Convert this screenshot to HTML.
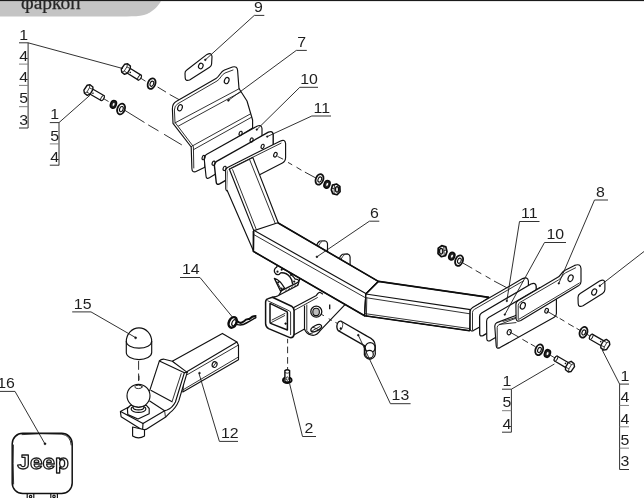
<!DOCTYPE html>
<html>
<head>
<meta charset="utf-8">
<style>
html,body{margin:0;padding:0;background:#fff;}
body{width:644px;height:498px;overflow:hidden;position:relative;font-family:"Liberation Sans",sans-serif;}
svg{position:absolute;left:0;top:0;display:block;}
.l{fill:none;stroke:#111;stroke-width:1.15;stroke-linejoin:round;stroke-linecap:round;}
.w{fill:#fff;stroke:#111;stroke-width:1.15;stroke-linejoin:round;stroke-linecap:round;}
.t{fill:none;stroke:#1c1c1c;stroke-width:0.9;stroke-linejoin:round;stroke-linecap:round;}
.d{fill:none;stroke:#222;stroke-width:0.8;stroke-dasharray:10.5 7;}
.ld{fill:none;stroke:#1a1a1a;stroke-width:0.9;}
.ul{fill:none;stroke:#333;stroke-width:1;}
.n{font-family:"Liberation Sans",sans-serif;font-size:15px;fill:#1e1e1e;stroke:none;}
.dot{fill:#0c0c0c;stroke:#0c0c0c;stroke-width:0.5;}
</style>
</head>
<body>
<svg width="644" height="498" viewBox="0 0 644 498">


<!-- header -->
<path d="M0,0 H161.6 C158,6.5 152.5,12.4 144,15 C139,16.3 134,16.4 127,16.4 H0 Z" fill="#c4c4c4"/>
<rect x="0" y="0" width="644" height="1.1" fill="#1a1a1a"/>
<text id="hdr" style="will-change:transform" x="21" y="8.6" font-family="Liberation Serif,serif" font-size="19.5" fill="#262626" stroke="#262626" stroke-width="0.25">фаркоп</text>

<g id="drawing">

<!-- ===== left bracket 7 ===== -->
<g id="br7">
<path class="w" d="M172.4,109 Q172.2,103.5 176.5,101.2 L216,78.5 C219.5,76.5 220.5,71.5 224.5,70 L232.5,67 Q237.3,65.8 237.6,70.5 L239,88.5 L247,101 L252.6,120 L252.6,128 L204.8,158 L204.8,167.2 L195.5,171.8 Q192,172.5 191.9,168.5 L191.2,147 L173,123.3 Z"/>
<path class="t" d="M193.8,168 L193.4,146.6 L175,122.4 L174.4,110 Q174.4,105.6 178,103.6 L217,81 C220.5,79 221.5,74.5 225,73 L233,70"/>
<path class="t" d="M174.8,123 L239.4,88.6 M178.5,126 L240.8,92"/>
<path class="t" d="M191.2,146.6 L250.6,113.8 M193.6,149.6 L251.6,117.2"/>
<ellipse class="l" cx="180" cy="107.8" rx="2.2" ry="3.2" transform="rotate(22 180 107.8)"/>
<ellipse class="l" cx="226.7" cy="80.6" rx="2.2" ry="3.2" transform="rotate(22 226.7 80.6)"/>
</g>

<!-- ===== left plate 10 ===== -->
<path class="w" d="M204.2,158.8 Q204.1,156 206.4,154.6 L257,126.2 Q261.6,124 262,128.6 L262,146 L209.4,177.8 Q206.2,179.4 206,176 Z"/>
<!-- ===== left plate 11 ===== -->
<path d="M214.4,165.6 Q214.3,162.8 216.6,161.4 L268.4,132.2 Q272.8,130.2 273.2,134.6 L273.2,153 L219.6,183.8 Q216.4,185.4 216.2,182 Z" fill="#fff" stroke="#111" stroke-width="1.4" stroke-linejoin="round"/>

<!-- ===== socket bracket (behind receiver) ===== -->
<g id="socket" fill="#fff" stroke="#111" stroke-width="1.3" stroke-linejoin="round" stroke-linecap="round">
<path d="M279,262 L276.6,267.3 Q273.6,269 274.6,272.2 Q276,275.2 279,274.4 L280.8,272.8 Q286.4,272.4 290,277 Q292.4,280 292.5,283.7 L296.1,286.3 Q298.8,283 298.7,280.6 Q298,279 295.2,279.2 Q294.6,278 292,275.4 Q288,270 282,268.6 L290,262 Z"/>
<path d="M274.4,278.4 L280.6,291.2 L284.6,288.1 Q282,284 280.2,281.9 Q277,279 274.4,278.4 Z"/>
<path d="M276.8,281.8 L281.4,289.6" stroke-width="0.9"/>
<path d="M281.5,290.7 L301.4,280.6 L304.9,282.8 L277.5,297.8 Z"/>
<path d="M285,291.4 L286.6,290 M288,289.8 L289.6,288.4 M291,288.2 L292.6,286.8 M294,286.6 L295.6,285.2 M297,285 L298.6,283.6" stroke-width="0.8"/>
<g fill="#111" stroke="none">
<circle cx="277.5" cy="271.7" r="1.1"/><circle cx="281.6" cy="269.8" r="1"/><circle cx="291" cy="275" r="1"/><circle cx="294.2" cy="281.6" r="1.1"/><circle cx="278.4" cy="282.3" r="1"/><circle cx="281.6" cy="288.4" r="1"/>
</g>
</g>

<!-- ===== receiver ===== -->
<g id="receiver">
<!-- tube top & side -->
<path class="w" d="M270.5,298 L276.6,296.4 L298,285.2 L300,278 L350,300 L345,304.6 L320.4,330.4 Q316,336.6 311,335 Q306,333.6 304.5,329 L293.8,335 L293.8,310 Z"/>
<path class="t" d="M293.8,310.6 L317.4,297.6"/>
<path class="l" d="M293.8,307.4 L316.4,295.4 Q318.8,291.4 320.8,292.8 L322.6,294"/>
<path class="l" d="M304.5,306 L304.5,329"/>
<path class="t" d="M306.8,305 L306.8,330.6 Q308.8,334.4 312.4,334"/>
<!-- gusset holes -->
<circle cx="316.3" cy="311.7" r="5.5" fill="#fff" stroke="#111" stroke-width="1.3"/>
<ellipse cx="316.1" cy="311.9" rx="3.3" ry="3.7" fill="#bdbdbd" stroke="#111" stroke-width="1.1"/>
<ellipse cx="316.2" cy="328.2" rx="5.8" ry="2.7" fill="#fff" stroke="#111" stroke-width="1.3" transform="rotate(-27 316.2 328.2)"/>
<path class="t" d="M312.6,330.6 L319.8,326.6 M313,327.2 L319.4,330"/>
<path d="M329.7,304.4 V309.3" stroke="#111" stroke-width="1.3" fill="none"/>
<!-- collar -->
<path d="M268.2,298.6 L272.4,297.2 L291.6,306.2 Q294,307.8 294,310.6 L294,334.4 Q293.6,338 290,337.6 L268.6,328.6 Q265.6,327 265.6,323.6 L265.6,302 Q265.6,299.4 268.2,298.6 Z" fill="#fff" stroke="#111" stroke-width="1.5" stroke-linejoin="round"/>
<path d="M270,303.4 L286.8,311.6 Q287.4,312 287.4,313 L287.4,330 L270.6,323.4 Q270,323 270,322 Z" fill="#fff" stroke="#111" stroke-width="1.5" stroke-linejoin="round"/>
<path class="t" d="M267.8,300.8 L289.6,311 Q290.6,311.6 290.6,313 L290.6,334.6"/>
<path class="t" d="M270.4,323 L284.6,315.6 M272,320 L285,313.4"/>
<path class="t" d="M272.4,297.2 L276.6,296.4"/>
<circle class="dot" cx="285.6" cy="323.6" r="0.9"/>
</g>

<!-- ===== pin 13 ===== -->
<g id="pin13">
<path d="M341.2,321.2 L367.4,336.4 Q375.2,339.8 375.2,345.4 L375.2,352 A5.4,5.4 0 0 1 364.4,354.8 L364.4,345.6 L338.2,330.6 Q336,327.6 337.4,323.6 Q338.8,320.4 341.2,321.2 Z" fill="#fff" stroke="#111" stroke-width="1.3" stroke-linejoin="round"/>
<path d="M341.6,321.6 Q343.6,323.6 342.4,327.4 Q341.2,330.8 338.6,330.8" fill="none" stroke="#222" stroke-width="0.8"/>
<circle cx="370.2" cy="347.6" r="5" fill="none" stroke="#111" stroke-width="1.2"/>
<circle cx="369.5" cy="354.2" r="3.8" fill="#fff" stroke="#111" stroke-width="1.2"/>
<circle class="dot" cx="340.8" cy="328.4" r="0.9"/>
<circle class="dot" cx="358.3" cy="335.2" r="0.9"/>
</g>

<!-- ===== clip 14 ===== -->
<g id="clip14" fill="none" stroke="#0c0c0c" stroke-linecap="round">
<ellipse cx="232.7" cy="322.4" rx="3.7" ry="5.5" transform="rotate(25 232.7 322.4)" stroke-width="2.5"/>
<ellipse cx="234" cy="322.8" rx="1.9" ry="3.3" transform="rotate(25 234 322.8)" stroke-width="1.1"/>
<path d="M237.4,321.2 Q240.2,324.4 243.6,321.6 Q246.4,318.4 249.4,319 Q252,316 255.6,316" stroke-width="2"/>
<path d="M237.6,324.6 Q242,325.8 246.4,323 Q250.6,320.8 255.8,317.6" stroke-width="1.5"/>
</g>

<!-- ===== bolt 2 ===== -->
<g id="bolt2">
<ellipse cx="287.3" cy="380.2" rx="4.3" ry="2.9" fill="#fff" stroke="#0c0c0c" stroke-width="2"/>
<path d="M284.9,370.6 Q287.2,369 289.6,370.6 L289.6,381.4 Q287.2,382.6 284.9,381.4 Z" fill="#fff" stroke="#0c0c0c" stroke-width="1.4"/>
<path d="M284.9,372.6 Q287.2,373.8 289.6,372.6" fill="none" stroke="#111" stroke-width="0.8"/>
<ellipse cx="287.3" cy="378.6" rx="1.1" ry="1.8" fill="#fff" stroke="#111" stroke-width="0.8"/>
</g>

<!-- ears -->
<path class="w" d="M316.3,246.4 Q317.6,242.2 320,241 L324.7,240.7 Q327.2,241.2 327.5,243.8 L327.5,256 L316.3,250 Z"/>
<path class="t" d="M318.2,246.6 Q319.6,242.8 321.9,241.4"/>
<path class="w" d="M338.9,259.6 Q340.2,255.4 342.6,254.2 L347.3,253.9 Q349.8,254.4 350.1,257 L350.1,269 L338.9,263 Z"/>
<path class="t" d="M340.8,259.8 Q342.2,256 344.5,254.6"/>
<!-- ===== frame 6 ===== -->
<g id="frame6">
<!-- left end plate -->
<path class="w" d="M225.6,170.8 Q225.5,168.6 227.6,167.4 L280,141.2 Q285.2,138.6 285.6,143.6 L285.6,157.6 Q285.6,161.4 282.4,163 L229,190.5 Q226,191.6 225.8,189 Z"/>
<path class="t" d="M227.8,189.5 L227.8,171.6 Q227.8,169.8 229.6,168.8 L281,143.2"/>
<!-- left arm -->
<path d="M227.2,190.4 L228,169.6 L252.8,157.4 L278.2,222.8 L253.8,230.6 L253.4,250.6 Z" fill="#fff" stroke="none"/>
<path class="l" d="M227.2,190.4 L253.4,250.8 M229.4,169.2 L252.8,157.4 L278.2,222.8"/>
<path class="l" d="M229.4,169.2 L253.8,230.6"/>
<path class="t" d="M232.6,169.6 L256.4,229.8"/>
<path class="t" d="M249.6,159.6 L275.4,223.8"/>
<!-- main beam -->
<path class="w" d="M253.8,230.6 L277.8,222.8 L378.4,281.4 L365.8,294 L364.6,315.8 L253.4,251.4 Z"/>
<path class="l" d="M253.8,230.2 L365.8,293.5"/>
<path class="t" d="M253.8,234.6 L364.8,297.4"/>
<!-- right arm -->
<path class="w" d="M365.8,294 L378.4,281.4 L489,297.4 L470,310 L469.6,330.8 L364.6,315.8 Z"/>
<path class="l" d="M365.8,294 L470.5,309.6"/>
<path class="t" d="M365.4,297.6 L470,313.8"/>
<path class="l" d="M365.8,294 L364.6,315.8"/>
<path class="t" d="M366.8,297.8 L366.4,316"/>
<path class="t" d="M364.8,313.6 L469.6,328.6"/>
<path d="M253.4,231 L253.4,251.4 L364.6,315.8 L469.6,330.8" fill="none" stroke="#0e0e0e" stroke-width="1.6" stroke-linejoin="round"/>
<path d="M277.8,222.8 L378.4,281.4 L489,297.4 M365.8,294 L378.4,281.4" fill="none" stroke="#0e0e0e" stroke-width="1.6" stroke-linejoin="round"/>
</g>

<!-- ===== right end plate (frame) ===== -->
<path class="w" d="M470.2,311.6 Q470.2,309 472.6,307.6 L522.6,278.6 Q527.8,276.4 528.4,281 L528.4,300 L473.4,330.6 Q470.4,331.8 470.2,329 Z"/>
<path class="t" d="M472.5,329.8 L472.5,312.4 Q472.5,310.4 474.4,309.4 L523.6,280.8"/>
<!-- right plate 11 -->
<path d="M479.6,316.4 Q479.6,314.2 481.6,313 L531,284 Q535.8,282 536.2,286.4 L536.2,304 L483,335.6 Q479.9,336.8 479.7,334 Z" fill="#fff" stroke="#111" stroke-width="1.3" stroke-linejoin="round"/>
<!-- right plate 10 -->
<path class="w" d="M486.6,321.2 Q486.6,318.8 488.6,317.6 L540,287.6 L540,311 L490.4,340.6 Q487,341.8 486.8,339 Z"/>
<!-- ===== right bracket 8 ===== -->
<g id="br8">
<!-- lower flange -->
<path class="w" d="M494.8,326.5 Q494.6,324 497,322.6 L514.5,316 L553,295.4 Q556.2,293.6 556.4,297 L556.4,313.4 Q556.4,316 554.2,317.2 L500,347.6 Q496.4,349.2 496.2,345.8 Z"/>
<path class="t" d="M497.2,346.4 L497.2,327.4 Q497.2,325.6 499,324.8 L515.5,318.4"/>
<path class="t" d="M499.4,324.4 L516,322.6 M503,321.4 L516,317.4"/>
<!-- upper flange -->
<path class="w" d="M515.9,304.5 Q515.8,301.8 518.4,300.4 L557.4,277.6 C561,275.6 561.4,272.2 564.6,270.4 L574.6,265.4 Q580.6,263.2 581,268.6 L581,281.4 Q581,284.2 578.8,285.6 L520.8,320.4 Q516.4,322.4 516.1,318.6 Z"/>
<path class="t" d="M518.2,319.4 L518.2,305.4 Q518.2,303.4 520,302.4 L558.4,280 C562,278 562.4,274.6 565.6,272.8 L575.6,267.8"/>
<path class="t" d="M519,319.2 L579.4,283"/>
<ellipse class="l" cx="522.8" cy="305.8" rx="2.4" ry="3.4" transform="rotate(22 522.8 305.8)"/>
<ellipse class="l" cx="570.6" cy="278.2" rx="2.4" ry="3.4" transform="rotate(22 570.6 278.2)"/>
<ellipse class="l" cx="546.6" cy="310.8" rx="1.7" ry="2.4" transform="rotate(20 546.6 310.8)"/>
<ellipse class="l" cx="509.2" cy="332.2" rx="1.9" ry="2.7" transform="rotate(20 509.2 332.2)"/>
</g>


<!-- ===== ball mount 12 ===== -->
<g id="mount12">
<!-- shank -->
<path class="w" d="M172.3,361.3 L222.4,333.4 L236.9,342 L238.5,345.2 L238.5,359.7 L182.8,392 L184,372.8 Z"/>
<path class="l" d="M186.8,371.8 L236.9,342"/>
<path class="t" d="M187.4,374.6 L237.8,345.4 M183.4,389.6 L237.8,357.4"/>
<ellipse class="l" cx="214.6" cy="364.6" rx="2.4" ry="2.9" transform="rotate(20 214.6 364.6)"/>
<path class="t" d="M213.2,366.6 L216,362.6"/>
<circle class="dot" cx="199.5" cy="373.1" r="0.9"/>
<!-- drop plate + platform -->
<path class="w" d="M159.4,360.9 Q161,359 164.2,359.2 L172.3,361.3 L187.2,372.4 L178.8,400.9 Q175.6,408.6 170,412.6 L166.1,416.7 L146,429.4 L142.3,430.1 L121.1,416.7 L120.4,411.6 L128.8,407 L149.7,390.6 Z"/>
<path class="l" d="M159.4,360.9 L184.4,372.7 L187.2,372.4"/>
<path class="l" d="M184.4,372.7 L175.4,402 Q172.4,408 167,410 L164.6,410.7 L143,423.4 L120.6,411.6"/>
<path class="t" d="M181.2,373.6 L172.3,400.9"/>
<path class="l" d="M151.2,390.6 L172.1,401.8"/>
<path class="l" d="M149.7,401.1 L164.6,410.7"/>
<path class="l" d="M143,423.4 L142.6,430"/>
<path class="t" d="M164.6,410.7 L165.4,416.6"/>
<!-- stud -->
<path class="w" d="M132.6,427 L132.6,436 Q138.5,439.6 144.5,436 L144.5,429.8 Z"/>
<!-- nut & collar -->
<path class="w" d="M127.4,408.5 L130.6,405.4 L146.4,405.4 L149.2,408.5 L149.2,413.7 L138,419 L127.8,414.6 Z"/>
<ellipse class="l" cx="138.5" cy="409" rx="7.4" ry="3.4"/>
<ellipse class="w" cx="138.5" cy="407.4" rx="5.4" ry="2.4"/>
<!-- ball -->
<circle class="w" cx="138.5" cy="395.8" r="11.5"/>
<ellipse class="t" cx="138.5" cy="386.9" rx="3.7" ry="1.7"/>
<path class="t" d="M133.6,406.2 Q138.5,408.4 143.6,406.2"/>
<path d="M139,375.7 V380.2" stroke="#222" stroke-width="0.9" fill="none"/>
</g>

<!-- ===== cap 15 ===== -->
<g id="cap15">
<path class="w" d="M126.3,341.5 A12.7,13.6 0 0 1 151.7,341.5 L151.7,352.6 A12.7,7 0 0 1 126.3,352.6 Z"/>
<path class="l" d="M126.3,341.2 A12.7,7 0 0 0 151.7,341.2"/>
<circle class="dot" cx="135.6" cy="337.8" r="1"/>
</g>

<!-- ===== jeep cover 16 ===== -->
<g id="jeep16">
<rect class="w" x="27.2" y="492" width="6.6" height="8"/>
<rect class="w" x="50.8" y="492" width="6.6" height="8"/>
<circle class="l" cx="30.6" cy="496.6" r="1.2"/>
<circle class="l" cx="54" cy="496.4" r="1.2"/>
<rect x="12.2" y="433.3" width="60" height="60.2" rx="10.5" ry="10.5" fill="#fff" stroke="#111" stroke-width="1.5"/>
<path class="t" d="M22,434.6 Q40,433 62,434.2 Q70.6,435.6 71.2,445 M13.4,445 Q12.8,462 13.6,484"/>
<text id="jeeptxt" style="will-change:transform" transform="translate(17.3,469.2) scale(1.08,1)" font-family="Liberation Sans,sans-serif" font-weight="bold" font-size="21" fill="#fff" stroke="#1a1a1a" stroke-width="1.25" stroke-linejoin="round">Jeep</text>
<circle class="dot" cx="45" cy="443.8" r="1"/>
</g>
<!-- ===== plates 9 ===== -->
<path class="w" d="M185,73.5 Q184.8,71.4 186.8,70 L207,54.4 Q211.6,52 212,56.5 L211.6,64 Q211.5,66 209.6,67.2 L189.6,80 Q185.4,81.4 185.2,78 Z"/>
<ellipse class="l" cx="200.8" cy="66" rx="2.2" ry="2.8" transform="rotate(25 200.8 66)"/>
<circle class="dot" cx="205.3" cy="59.8" r="0.9"/>
<path class="w" d="M578,297.4 Q578,295 580.2,293.6 L599.6,281 Q604.6,278.6 604.9,283 L604.9,289.6 Q604.9,292 602.6,293.4 L583,305.8 Q578.4,307.8 578.2,303.6 Z"/>
<ellipse class="l" cx="594.2" cy="292" rx="2.3" ry="3.2" transform="rotate(25 594.2 292)"/>
<circle class="dot" cx="599.8" cy="285.8" r="0.9"/>

<!-- holes in plates -->
<g class="l">
<ellipse cx="275.4" cy="154.7" rx="1.6" ry="2.4" transform="rotate(22 275.4 154.7)"/>
<ellipse cx="203.6" cy="157.6" rx="1.4" ry="2.2" transform="rotate(20 203.6 157.6)"/>
<ellipse cx="213.6" cy="163.2" rx="1.4" ry="2.2" transform="rotate(20 213.6 163.2)"/>
<ellipse cx="224.6" cy="168.4" rx="1.4" ry="2.2" transform="rotate(20 224.6 168.4)"/>
<ellipse cx="240.6" cy="133.4" rx="1.4" ry="2.2" transform="rotate(20 240.6 133.4)"/>
<ellipse cx="251.6" cy="140" rx="1.4" ry="2.2" transform="rotate(20 251.6 140)"/>
<ellipse cx="262.6" cy="146.4" rx="1.4" ry="2.2" transform="rotate(20 262.6 146.4)"/>
</g>
<circle class="dot" cx="256.8" cy="129.6" r="0.8"/>
<circle class="dot" cx="267.2" cy="136.6" r="0.8"/>
<circle class="dot" cx="228.4" cy="100.4" r="0.9"/>
<circle class="dot" cx="316.9" cy="256.8" r="0.9"/>
<circle class="dot" cx="506.8" cy="301" r="0.8"/>
<circle class="dot" cx="504.8" cy="314.6" r="0.8"/>
<circle class="dot" cx="558.8" cy="283.4" r="0.8"/>

<!-- ===== hardware ===== -->
<g transform="translate(126,69) rotate(32)">
    <path d="M16,0 H23" stroke="#222" stroke-width="0.8" fill="none"/>
    <path d="M2,-2.8 L16,-2.8 A1.3,2.8 0 0 1 16,2.8 L2,2.8 Z" fill="#fff" stroke="#111" stroke-width="1.25" stroke-linejoin="round"/>
    <ellipse cx="16" cy="0" rx="1.3" ry="2.8" fill="#fff" stroke="#111" stroke-width="0.9"/>
    <path d="M-3.6,-3.4 L-1.4,-5.3 L2.2,-4.8 L3.4,-2.5 L3.4,2.7 L1.6,5.3 L-2,4.9 L-4,2.5 Z" fill="#fff" stroke="#111" stroke-width="1.4" stroke-linejoin="round"/>
    <path d="M-1.4,-5.3 L-0.4,-2.3 L-0.4,2.7 L-2,4.9 M-0.4,-2.3 L3.4,-2.5 M-0.4,2.7 L3.4,2.7" fill="none" stroke="#222" stroke-width="0.8"/>
    <circle cx="5.4" cy="0.6" r="0.8" fill="#111"/>
</g>
<g transform="translate(151.6,83.6) rotate(22)">
    <ellipse cx="0" cy="0" rx="3.7" ry="5.5" fill="#fff" stroke="#111" stroke-width="1.8"/>
    <ellipse cx="0.3" cy="0" rx="1.7" ry="2.7" fill="#fff" stroke="#111" stroke-width="1.1"/>
</g>
<g transform="translate(88.6,90) rotate(30)">
    <path d="M16,0 H23" stroke="#222" stroke-width="0.8" fill="none"/>
    <path d="M2,-2.8 L16,-2.8 A1.3,2.8 0 0 1 16,2.8 L2,2.8 Z" fill="#fff" stroke="#111" stroke-width="1.25" stroke-linejoin="round"/>
    <ellipse cx="16" cy="0" rx="1.3" ry="2.8" fill="#fff" stroke="#111" stroke-width="0.9"/>
    <path d="M-3.6,-3.4 L-1.4,-5.3 L2.2,-4.8 L3.4,-2.5 L3.4,2.7 L1.6,5.3 L-2,4.9 L-4,2.5 Z" fill="#fff" stroke="#111" stroke-width="1.4" stroke-linejoin="round"/>
    <path d="M-1.4,-5.3 L-0.4,-2.3 L-0.4,2.7 L-2,4.9 M-0.4,-2.3 L3.4,-2.5 M-0.4,2.7 L3.4,2.7" fill="none" stroke="#222" stroke-width="0.8"/>
    <circle cx="5.4" cy="0.6" r="0.8" fill="#111"/>
</g>
<g transform="translate(113.4,104.4) rotate(22)">
    <ellipse cx="0" cy="0" rx="2.8" ry="3.9" fill="#2a2a2a" stroke="#0c0c0c" stroke-width="1.6"/>
    <ellipse cx="0.2" cy="0" rx="0.9" ry="1.5" fill="#fff" stroke="none"/>
</g>
<g transform="translate(121.1,109) rotate(22)">
    <ellipse cx="0" cy="0" rx="3.7" ry="5.5" fill="#fff" stroke="#111" stroke-width="1.8"/>
    <ellipse cx="0.3" cy="0" rx="1.7" ry="2.7" fill="#fff" stroke="#111" stroke-width="1.1"/>
</g>
<g transform="translate(319.5,179.4) rotate(22)">
    <ellipse cx="0" cy="0" rx="3.7" ry="5.5" fill="#fff" stroke="#111" stroke-width="1.8"/>
    <ellipse cx="0.3" cy="0" rx="1.7" ry="2.7" fill="#fff" stroke="#111" stroke-width="1.1"/>
</g>
<g transform="translate(327,184.4) rotate(22)">
    <ellipse cx="0" cy="0" rx="2.8" ry="3.9" fill="#2a2a2a" stroke="#0c0c0c" stroke-width="1.6"/>
    <ellipse cx="0.2" cy="0" rx="0.9" ry="1.5" fill="#fff" stroke="none"/>
</g>
<g transform="translate(335.8,189.4) scale(1.12)">
    <path d="M-3,-3.8 L0.6,-4.8 L3.6,-2.7 L3.8,2.1 L1,4.8 L-2.7,3.8 L-4,0.4 Z" fill="#fff" stroke="#0c0c0c" stroke-width="1.5" stroke-linejoin="round"/>
    <path d="M-1.2,-4.2 L-1.6,4 M-3.6,-1 L-1.4,-0.6" fill="none" stroke="#222" stroke-width="0.8"/>
    <ellipse cx="1.1" cy="0" rx="1.5" ry="2.5" fill="#ddd" stroke="#111" stroke-width="1.2"/>
</g>
<g transform="translate(442.4,251.2) scale(-1.15,1.15)">
    <path d="M-3,-3.8 L0.6,-4.8 L3.6,-2.7 L3.8,2.1 L1,4.8 L-2.7,3.8 L-4,0.4 Z" fill="#fff" stroke="#0c0c0c" stroke-width="1.5" stroke-linejoin="round"/>
    <path d="M-1.2,-4.2 L-1.6,4 M-3.6,-1 L-1.4,-0.6" fill="none" stroke="#222" stroke-width="0.8"/>
    <ellipse cx="1.1" cy="0" rx="1.5" ry="2.5" fill="#ddd" stroke="#111" stroke-width="1.2"/>
</g>
<g transform="translate(451.8,256.1) rotate(22)">
    <ellipse cx="0" cy="0" rx="2.8" ry="3.9" fill="#2a2a2a" stroke="#0c0c0c" stroke-width="1.6"/>
    <ellipse cx="0.2" cy="0" rx="0.9" ry="1.5" fill="#fff" stroke="none"/>
</g>
<g transform="translate(459.1,260.6) rotate(22)">
    <ellipse cx="0" cy="0" rx="3.7" ry="5.5" fill="#fff" stroke="#111" stroke-width="1.8"/>
    <ellipse cx="0.3" cy="0" rx="1.7" ry="2.7" fill="#fff" stroke="#111" stroke-width="1.1"/>
</g>
<g transform="translate(539.2,349.8) rotate(22)">
    <ellipse cx="0" cy="0" rx="3.7" ry="5.5" fill="#fff" stroke="#111" stroke-width="1.8"/>
    <ellipse cx="0.3" cy="0" rx="1.7" ry="2.7" fill="#fff" stroke="#111" stroke-width="1.1"/>
</g>
<g transform="translate(547.4,353.5) rotate(22)">
    <ellipse cx="0" cy="0" rx="2.8" ry="3.9" fill="#2a2a2a" stroke="#0c0c0c" stroke-width="1.6"/>
    <ellipse cx="0.2" cy="0" rx="0.9" ry="1.5" fill="#fff" stroke="none"/>
</g>
<g transform="translate(569.8,366.7) rotate(210.5)">
    <path d="M16,0 H23" stroke="#222" stroke-width="0.8" fill="none"/>
    <path d="M2,-2.8 L16,-2.8 A1.3,2.8 0 0 1 16,2.8 L2,2.8 Z" fill="#fff" stroke="#111" stroke-width="1.25" stroke-linejoin="round"/>
    <ellipse cx="16" cy="0" rx="1.3" ry="2.8" fill="#fff" stroke="#111" stroke-width="0.9"/>
    <path d="M-3.6,-3.4 L-1.4,-5.3 L2.2,-4.8 L3.4,-2.5 L3.4,2.7 L1.6,5.3 L-2,4.9 L-4,2.5 Z" fill="#fff" stroke="#111" stroke-width="1.4" stroke-linejoin="round"/>
    <path d="M-1.4,-5.3 L-0.4,-2.3 L-0.4,2.7 L-2,4.9 M-0.4,-2.3 L3.4,-2.5 M-0.4,2.7 L3.4,2.7" fill="none" stroke="#222" stroke-width="0.8"/>
    <circle cx="5.4" cy="0.6" r="0.8" fill="#111"/>
</g>
<g transform="translate(583.5,332.3) rotate(22)">
    <ellipse cx="0" cy="0" rx="3.7" ry="5.5" fill="#fff" stroke="#111" stroke-width="1.8"/>
    <ellipse cx="0.3" cy="0" rx="1.7" ry="2.7" fill="#fff" stroke="#111" stroke-width="1.1"/>
</g>
<g transform="translate(605.1,344.8) rotate(210)">
    <path d="M16,0 H23" stroke="#222" stroke-width="0.8" fill="none"/>
    <path d="M2,-2.8 L16,-2.8 A1.3,2.8 0 0 1 16,2.8 L2,2.8 Z" fill="#fff" stroke="#111" stroke-width="1.25" stroke-linejoin="round"/>
    <ellipse cx="16" cy="0" rx="1.3" ry="2.8" fill="#fff" stroke="#111" stroke-width="0.9"/>
    <path d="M-3.6,-3.4 L-1.4,-5.3 L2.2,-4.8 L3.4,-2.5 L3.4,2.7 L1.6,5.3 L-2,4.9 L-4,2.5 Z" fill="#fff" stroke="#111" stroke-width="1.4" stroke-linejoin="round"/>
    <path d="M-1.4,-5.3 L-0.4,-2.3 L-0.4,2.7 L-2,4.9 M-0.4,-2.3 L3.4,-2.5 M-0.4,2.7 L3.4,2.7" fill="none" stroke="#222" stroke-width="0.8"/>
    <circle cx="5.4" cy="0.6" r="0.8" fill="#111"/>
</g>

<!-- dashed axes -->
<g class="ld">
<path d="M157.6,87 L166,92.1 M169.7,94.5 L179,99.6"/>
<path d="M124.9,110.4 L144.5,122.5 M148.2,124.9 L158.5,130.9 M164.1,134.3 L181.8,144.9"/>
<path d="M277.5,156.4 L283.1,159.2 M288,162.4 L292.2,164.8 M296.5,167.2 L301.4,170.2 M304.9,172.1 L316.2,178.2"/>
<path d="M463,263.1 L472.2,268.3 M475.7,270.5 L481.3,273.7 M485.6,276.1 L490.5,278.9 M494,281 L507.4,288"/>
<path d="M546.6,310.9 L557.8,317.5 M559.7,318.4 L564.4,321.2 M568.1,323.6 L573.7,326.8 M576.5,328.3 L580.2,330.5"/>
<path d="M509.3,331.8 L518.7,337 M522.4,339.3 L528,342.6 M530.8,344.1 L535.4,346.7"/>
<path d="M138.6,361 V369.8 M138.6,373.5 V381"/>
<path d="M287.6,338.9 V343.3 M287.6,346.6 V353.2 M287.6,357.1 V363.7 M287.6,367 V369.8"/>
<path d="M321.2,314.3 L323.9,315.7 M328.7,318.7 L331.8,320.5 M335.4,322.4 L337.4,323.4"/>
</g>
<!-- ===== leaders ===== -->
<g class="ld">
<path d="M28.1,42.8 L123,68.6"/>
<path d="M59,122.6 L90,95.2"/>
<path d="M254.3,15.4 L205.6,59.6"/>
<path d="M296.3,50.4 L228.4,100.4"/>
<path d="M299.8,87.3 L256.8,129.6"/>
<path d="M311.8,116 L267.2,136.6"/>
<path d="M369.4,221.2 L316.9,256.8"/>
<path d="M519.5,221.5 L506.8,301"/>
<path d="M544.5,242.5 L504.8,314.6"/>
<path d="M594.5,200 L558.8,283.4"/>
<path d="M644,251.5 L599.8,285.8"/>
<path d="M390.4,403.7 L358.3,335.2"/>
<path d="M302.5,436.5 L289.6,383.6"/>
<path d="M200,277.5 L232.4,317"/>
<path d="M219.4,441.4 L199,373.5"/>
<path d="M91,311.9 L135.6,337.6"/>
<path d="M15,391.4 L44.8,443.6"/>
<path d="M511.4,389.2 L554.4,364"/>
<path d="M619.6,384.1 L602.2,350"/>
<path d="M28.1,42.8 V128"/>
<path d="M59,122.6 V165.4"/>
<path d="M511.4,389.2 V432.2"/>
<path d="M619.6,384.1 V469.5"/>
</g>
<!-- labels -->
<g style="will-change:transform">
<text class="n" transform="translate(19.2,39.50) scale(1.06,1)">1</text><path class="ul" d="M19,42.8 H28.1"/>
<text class="n" transform="translate(19.2,60.80) scale(1.06,1)">4</text><path class="ul" style="stroke:#808080" d="M19,64.1 H28.1"/>
<text class="n" transform="translate(19.2,82.10) scale(1.06,1)">4</text><path class="ul" style="stroke:#808080" d="M19,85.4 H28.1"/>
<text class="n" transform="translate(19.2,103.40) scale(1.06,1)">5</text><path class="ul" style="stroke:#808080" d="M19,106.7 H28.1"/>
<text class="n" transform="translate(19.2,124.70) scale(1.06,1)">3</text><path class="ul" d="M19,128.0 H28.1"/>
<text class="n" transform="translate(50.2,119.30) scale(1.06,1)">1</text><path class="ul" d="M49.8,122.6 H59"/>
<text class="n" transform="translate(50.2,140.60) scale(1.06,1)">5</text><path class="ul" style="stroke:#808080" d="M49.8,143.9 H59"/>
<text class="n" transform="translate(50.2,161.90) scale(1.06,1)">4</text><path class="ul" d="M49.8,165.2 H59"/>
<text class="n" transform="translate(502.4,385.90) scale(1.06,1)">1</text><path class="ul" d="M502,389.2 H511.4"/>
<text class="n" transform="translate(502.4,407.40) scale(1.06,1)">5</text><path class="ul" style="stroke:#808080" d="M502,410.7 H511.4"/>
<text class="n" transform="translate(502.4,428.90) scale(1.06,1)">4</text><path class="ul" d="M502,432.2 H511.4"/>
<text class="n" transform="translate(620.4,380.80) scale(1.06,1)">1</text><path class="ul" d="M619.6,384.1 H629"/>
<text class="n" transform="translate(620.4,402.15) scale(1.06,1)">4</text><path class="ul" style="stroke:#808080" d="M619.6,405.45000000000005 H629"/>
<text class="n" transform="translate(620.4,423.50) scale(1.06,1)">4</text><path class="ul" style="stroke:#808080" d="M619.6,426.8 H629"/>
<text class="n" transform="translate(620.4,444.85) scale(1.06,1)">5</text><path class="ul" style="stroke:#808080" d="M619.6,448.15000000000003 H629"/>
<text class="n" transform="translate(620.4,466.20) scale(1.06,1)">3</text><path class="ul" d="M619.6,469.5 H629"/>
<text class="n" transform="translate(254.0,12.10) scale(1.06,1)">9</text><path class="ul" d="M254.3,15.4 H264.3"/>
<text class="n" transform="translate(297.2,47.10) scale(1.06,1)">7</text><path class="ul" d="M296.3,50.4 H306.8"/>
<text class="n" transform="translate(300.2,84.00) scale(1.06,1)">10</text><path class="ul" d="M299.8,87.3 H318"/>
<text class="n" transform="translate(313.6,112.70) scale(1.06,1)">11</text><path class="ul" d="M311.8,116 H331"/>
<text class="n" transform="translate(370,217.90) scale(1.06,1)">6</text><path class="ul" d="M369.4,221.2 H379.3"/>
<text class="n" transform="translate(521,218.20) scale(1.06,1)">11</text><path class="ul" d="M519.5,221.5 H539.5"/>
<text class="n" transform="translate(546.5,239.20) scale(1.06,1)">10</text><path class="ul" d="M544.5,242.5 H566"/>
<text class="n" transform="translate(596,196.70) scale(1.06,1)">8</text><path class="ul" d="M594.5,200 H608"/>
<text class="n" transform="translate(391.6,400.40) scale(1.06,1)">13</text><path class="ul" d="M390.4,403.7 H410.6"/>
<text class="n" transform="translate(304.5,433.20) scale(1.06,1)">2</text><path class="ul" d="M302.5,436.5 H316"/>
<text class="n" transform="translate(182,274.20) scale(1.06,1)">14</text><path class="ul" d="M180,277.5 H200"/>
<text class="n" transform="translate(221,438.10) scale(1.06,1)">12</text><path class="ul" d="M219.4,441.4 H238"/>
<text class="n" transform="translate(73.8,308.60) scale(1.06,1)">15</text><path class="ul" d="M72.2,311.9 H91"/>
<text class="n" transform="translate(-2.8,388.40) scale(1.06,1)">16</text><path class="ul" d="M0,391.4 H15"/>
</g>
</g>
</svg>
</body>
</html>
